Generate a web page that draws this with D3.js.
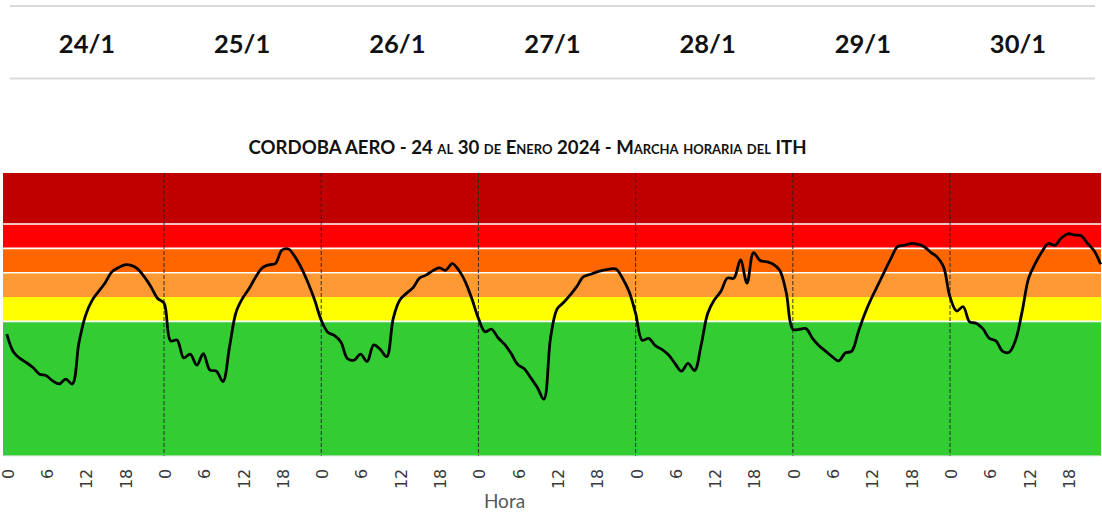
<!DOCTYPE html>
<html>
<head>
<meta charset="utf-8">
<script src="https://cdn.jsdelivr.net/npm/d3@7"></script>
<style>
html,body{margin:0;padding:0;background:#fff;}
svg{display:block;}
</style>
</head>
<body>
<svg id="chart" width="1102" height="513"></svg>
<script>
// ---- data ----
const days = ["24/1","25/1","26/1","27/1","28/1","29/1","30/1"];
const hourTicks = [0, 6, 12, 18];
// hourly ITH values, one array per day (hours 0..23)
const ith_24 = [65.9,63.0,61.9,61.2,60.4,59.3,59.1,58.2,57.7,58.5,57.7,64.4,68.9,71.4,72.9,74.3,76.1,76.8,77.3,77.2,76.6,75.3,73.7,71.8];
const ith_25 = [71.0,64.8,64.9,62.0,62.6,60.8,62.7,60.0,59.8,58.1,63.8,69.5,71.8,73.4,75.3,76.8,77.3,77.5,79.7,79.9,78.6,76.7,74.3,71.5];
const ith_26 = [68.2,66.2,65.7,64.6,61.9,61.6,62.6,61.4,64.1,63.4,62.2,68.5,71.5,72.6,73.5,75.1,75.6,76.3,76.8,76.4,77.5,76.4,74.5,71.7];
const ith_27 = [68.5,66.3,66.7,65.3,64.2,62.7,60.9,60.2,58.7,57.1,55.2,65.2,70.0,71.1,72.3,73.7,75.3,75.7,76.1,76.4,76.6,76.6,75.1,72.9];
const ith_28 = [69.3,64.9,65.2,64.0,63.4,62.5,61.1,59.8,61.1,59.9,64.1,69.3,71.5,72.9,75.1,75.1,78.1,74.3,79.3,78.0,77.8,77.4,76.4,72.7];
const ith_29 = [66.7,66.7,66.8,65.2,64.0,63.1,62.2,61.5,62.8,63.1,66.3,69.3,71.8,74.0,76.2,78.4,80.3,80.5,80.8,80.7,80.3,79.4,78.6,77.0];
const ith_30 = [72.0,69.7,70.4,67.9,67.7,66.8,65.2,64.8,63.1,62.9,64.9,69.6,75.1,77.5,79.4,80.8,80.5,81.7,82.4,82.2,82.1,80.8,79.6,77.4];
// ITH category thresholds and band colours (bottom to top)
const thresholds = [68, 72, 76, 80, 84];
const bandColors = ["#33CC33","#FFFF00","#FF9933","#FF6600","#FF0000","#C00000"];
const whiteBoundary = [true, false, true, true, true];
const yMin = 45.9, yMax = 92.4;
const titleText = "CORDOBA AERO - 24 al 30 de Enero 2024 - Marcha horaria del ITH";
const xAxisTitle = "Hora";

// ---- build ----
const series = [ith_24, ith_25, ith_26, ith_27, ith_28, ith_29, ith_30].flat();
const N = series.length;
const svg = d3.select("#chart");

const plot = {left: 3, right: 1101, top: 173, bottom: 455.7};
const x = d3.scaleLinear().domain([0, N - 1]).range([6.8, 1100.7]);
const y = d3.scaleLinear().domain([yMin, yMax]).range([plot.bottom, plot.top]);

// header with dates
const header = svg.append("g");
header.append("line").attr("x1", 10).attr("x2", 1095).attr("y1", 6).attr("y2", 6)
  .attr("stroke", "#d9d9d9").attr("stroke-width", 2);
header.append("line").attr("x1", 10).attr("x2", 1095).attr("y1", 78.5).attr("y2", 78.5)
  .attr("stroke", "#d9d9d9").attr("stroke-width", 2);
const hx = d3.scalePoint().domain(days).range([87, 1018]);
header.selectAll("text.day").data(days).join("text")
  .attr("class", "day")
  .attr("x", d => hx(d)).attr("y", 53)
  .attr("text-anchor", "middle")
  .attr("font-family", "Lato, 'Open Sans', sans-serif")
  .attr("font-weight", "bold").attr("font-size", 25.5)
  .attr("fill", "#111")
  .text(d => d);

// title
svg.append("text")
  .attr("x", 527.5).attr("y", 153.5)
  .attr("text-anchor", "middle")
  .attr("font-family", "Lato, 'Open Sans', sans-serif")
  .attr("font-weight", "bold").attr("font-size", 18.6)
  .style("font-variant", "small-caps")
  .attr("fill", "#111")
  .text(titleText);

// bands
const edges = [yMin, ...thresholds, yMax];
const bands = bandColors.map((c, k) => ({lo: edges[k], hi: edges[k + 1], color: c}));
svg.append("g").selectAll("rect").data(bands).join("rect")
  .attr("x", plot.left).attr("width", plot.right - plot.left)
  .attr("y", d => y(d.hi)).attr("height", d => y(d.lo) - y(d.hi))
  .attr("fill", d => d.color);
svg.append("g").selectAll("line").data(thresholds.filter((t, k) => whiteBoundary[k])).join("line")
  .attr("x1", plot.left).attr("x2", plot.right)
  .attr("y1", d => y(d)).attr("y2", d => y(d))
  .attr("stroke", "#fff").attr("stroke-width", 1.6);
// light bottom border
svg.append("line").attr("x1", plot.left).attr("x2", plot.right)
  .attr("y1", plot.bottom).attr("y2", plot.bottom)
  .attr("stroke", "#a6dca6").attr("stroke-width", 1);

// day separators
const dayStarts = d3.range(1, days.length).map(k => k * 24);
svg.append("g").selectAll("line").data(dayStarts).join("line")
  .attr("x1", d => x(d)).attr("x2", d => x(d))
  .attr("y1", plot.top).attr("y2", plot.bottom)
  .attr("stroke", "#222").attr("stroke-width", 0.9)
  .attr("stroke-dasharray", "4,2");

// ITH line
const line = d3.line()
  .x((d, i) => x(i))
  .y(d => y(d))
  .curve(d3.curveCatmullRom.alpha(0.5));
svg.append("path").datum(series)
  .attr("d", line)
  .attr("fill", "none")
  .attr("stroke", "#000")
  .attr("stroke-width", 2.8)
  .attr("stroke-linejoin", "round");

// x axis tick labels (every 6 hours)
const tickIdx = d3.range(N).filter(i => hourTicks.includes(i % 24));
const xAxis = d3.axisBottom(x).tickValues(tickIdx).tickSize(0).tickPadding(0)
  .tickFormat(i => String(i % 24));
const ax = svg.append("g").attr("transform", `translate(0,${plot.bottom})`).call(xAxis);
ax.select(".domain").remove();
ax.selectAll(".tick text")
  .attr("font-family", "'DejaVu Sans', sans-serif")
  .attr("font-size", 16)
  .attr("fill", "#3a3a3a")
  .attr("text-anchor", "end")
  .attr("dy", "0.4em")
  .attr("transform", "translate(0,13) rotate(-90)")
  .attr("x", 0).attr("y", 0);

// axis title
svg.append("text")
  .attr("x", 504.5).attr("y", 508.3)
  .attr("text-anchor", "middle")
  .attr("font-family", "Lato, 'Open Sans', sans-serif")
  .attr("font-size", 19)
  .attr("fill", "#595959")
  .text(xAxisTitle);
</script>
</body>
</html>
